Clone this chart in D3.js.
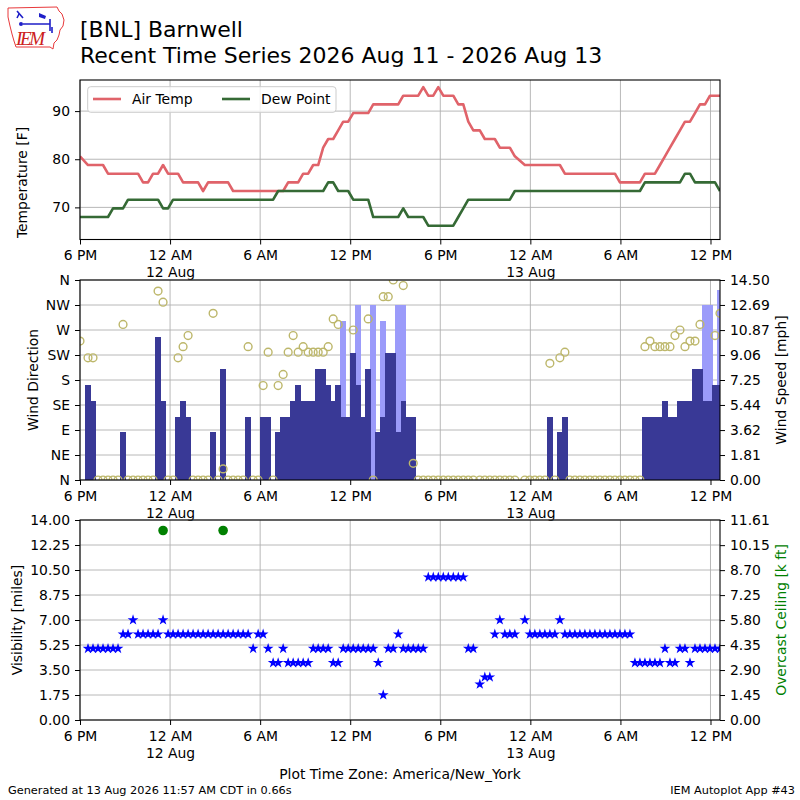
<!DOCTYPE html>
<html>
<head>
<meta charset="utf-8">
<script src="https://cdn.jsdelivr.net/npm/d3@7"></script>
<style>
  body { margin: 0; background: #fff; }
  svg { font-family: "DejaVu Sans", sans-serif; }
</style>
</head>
<body>
<svg id="chart" width="800" height="800"></svg>
<script>
const N = null;

// AWOS obs every 20 minutes (one lone ob at the start, then two runs)
const obsRuns = [
    { start: "2026-08-11T18:00", count: 1 },
    { start: "2026-08-11T18:32", count: 78 },
    { start: "2026-08-12T20:38", count: 49 }
];
const timeDomain = ["2026-08-11T18:00", "2026-08-13T12:38"];
const tickTimes = ["2026-08-11T18:00", "2026-08-12T00:00", "2026-08-12T06:00", "2026-08-12T12:00",
                   "2026-08-12T18:00", "2026-08-13T00:00", "2026-08-13T06:00", "2026-08-13T12:00"];
const tickLabels = [["6 PM"], ["12 AM", "12 Aug"], ["6 AM"], ["12 PM"],
                    ["6 PM"], ["12 AM", "13 Aug"], ["6 AM"], ["12 PM"]];

// temperatures [F]
const airTemp = [
    80.6, 78.8, 78.8, 78.8, 78.8, 77.0, 77.0, 77.0, 77.0, 77.0,
    77.0, 77.0, 75.2, 75.2, 77.0, 77.0, 78.8, 77.0, 77.0, 77.0,
    75.2, 75.2, 75.2, 75.2, 73.4, 75.2, 75.2, 75.2, 75.2, 75.2,
    73.4, 73.4, 73.4, 73.4, 73.4, 73.4, 73.4, 73.4, 73.4, 73.4,
    73.4, 75.2, 75.2, 75.2, 77.0, 77.0, 78.8, 78.8, 82.4, 84.2,
    84.2, 86.0, 87.8, 87.8, 89.6, 89.6, 89.6, 89.6, 91.4, 91.4,
    91.4, 91.4, 91.4, 91.4, 93.2, 93.2, 93.2, 93.2, 95.0, 93.2,
    93.2, 95.0, 93.2, 93.2, 93.2, 91.4, 91.4, 87.8, 86.0, 86.0,
    84.2, 84.2, 84.2, 82.4, 82.4, 82.4, 80.6, N, 78.8, 78.8,
    78.8, 78.8, 78.8, 78.8, 78.8, 78.8, 77.0, 77.0, 77.0, 77.0,
    77.0, 77.0, 77.0, 77.0, 77.0, 77.0, 77.0, 75.2, 75.2, 75.2,
    75.2, 75.2, 77.0, 77.0, 77.0, 78.8, 80.6, 82.4, 84.2, 86.0,
    87.8, 87.8, 89.6, 91.4, 91.4, 93.2, 93.2, 93.2
];
const dewPoint = [
    68.0, 68.0, 68.0, 68.0, 68.0, 68.0, 69.8, 69.8, 69.8, 71.6,
    71.6, 71.6, 71.6, 71.6, 71.6, 71.6, 69.8, 69.8, 71.6, 71.6,
    71.6, 71.6, 71.6, 71.6, 71.6, 71.6, 71.6, 71.6, 71.6, 71.6,
    71.6, 71.6, 71.6, 71.6, 71.6, 71.6, 71.6, 71.6, 71.6, 73.4,
    73.4, 73.4, 73.4, 73.4, 73.4, 73.4, 73.4, 73.4, 73.4, 75.2,
    75.2, 73.4, 73.4, 73.4, 71.6, 71.6, 71.6, 71.6, 68.0, 68.0,
    68.0, 68.0, 68.0, 68.0, 69.8, 68.0, 68.0, 68.0, 68.0, 66.2,
    66.2, 66.2, 66.2, 66.2, 66.2, 68.0, 69.8, 71.6, 71.6, 71.6,
    71.6, 71.6, 71.6, 71.6, 71.6, 71.6, 73.4, N, 73.4, 73.4,
    73.4, 73.4, 73.4, 73.4, 73.4, 73.4, 73.4, 73.4, 73.4, 73.4,
    73.4, 73.4, 73.4, 73.4, 73.4, 73.4, 73.4, 73.4, 73.4, 73.4,
    73.4, 73.4, 75.2, 75.2, 75.2, 75.2, 75.2, 75.2, 75.2, 75.2,
    77.0, 77.0, 75.2, 75.2, 75.2, 75.2, 75.2, 73.4
];

// wind direction [deg], 0 = calm, null = variable / missing
const windDir = [
    250, 220, 220, 0, 0, 0, 0, 0, 280, 0,
    0, 0, 0, 0, 0, 340, 320, 0, 0, 220,
    240, 260, 0, 0, 0, 0, 300, 0, 20, 0,
    0, 0, 0, 240, 0, 0, 170, 230, 0, 170,
    190, 230, 260, 230, 240, 230, 230, 230, 230, 240,
    290, 280, N, N, 270, N, N, 290, 0, N,
    330, 330, 360, N, 350, N, 30, 0, 0, 0,
    0, 0, 0, 0, 0, 0, 0, 0, 0, 0,
    0, 0, 0, 0, 0, 0, 0, N, 0, 0,
    0, 0, 0, 210, 0, 220, 230, 0, 0, 0,
    0, 0, 0, 0, 0, 0, 0, 0, 0, 0,
    0, 0, 240, 250, 240, 240, 240, 240, 260, 270,
    240, 250, 250, 280, N, N, 260, 300
];
// wind speed and gust [kt]
const windSpeed = [
    0, 6, 5, 0, 0, 0, 0, 0, 3, 0,
    0, 0, 0, 0, 0, 9, 5, 0, 0, 4,
    5, 4, 0, 0, 0, 0, 3, 0, 7, 0,
    0, 0, 0, 4, 0, 0, 4, 4, 0, 3,
    4, 4, 5, 6, 5, 5, 5, 7, 7, 6,
    5, 6, 4, 4, 8, 6, 4, 7, 0, 3,
    4, 8, 8, 3, 5, 4, 4, 0, 0, 0,
    0, 0, 0, 0, 0, 0, 0, 0, 0, 0,
    0, 0, 0, 0, 0, 0, 0, N, 0, 0,
    0, 0, 0, 4, 0, 3, 4, 0, 0, 0,
    0, 0, 0, 0, 0, 0, 0, 0, 0, 0,
    0, 0, 4, 4, 4, 4, 5, 4, 4, 5,
    5, 5, 7, 7, 5, 5, 6, 6
];
const windGust = [
    N, N, N, N, N, N, N, N, N, N,
    N, N, N, N, N, N, N, N, N, N,
    N, N, N, N, N, N, N, N, N, N,
    N, N, N, N, N, N, N, N, N, N,
    N, N, N, N, N, N, N, N, N, N,
    N, N, 10, N, N, 11, N, N, 11, N,
    10, N, N, 11, 11, N, N, N, N, N,
    N, N, N, N, N, N, N, N, N, N,
    N, N, N, N, N, N, N, N, N, N,
    N, N, N, N, N, N, N, N, N, N,
    N, N, N, N, N, N, N, N, N, N,
    N, N, N, N, N, N, N, N, N, N,
    N, N, N, N, 11, 11, N, 12
];

// visibility [miles] and overcast ceiling [k ft]
const visibility = [
    N, 5, 5, 5, 5, 5, 5, 5, 6, 6,
    7, 6, 6, 6, 6, 6, 7, 6, 6, 6,
    6, 6, 6, 6, 6, 6, 6, 6, 6, 6,
    6, 6, 6, 6, 5, 6, 6, 5, 4, 4,
    5, 4, 4, 4, 4, 4, 5, 5, 5, 5,
    4, 4, 5, 5, 5, 5, 5, 5, 5, 4,
    1.75, 5, 5, 6, 5, 5, 5, 5, 5, 10,
    10, 10, 10, 10, 10, 10, 10, 5, 5, 2.5,
    3, 3, 6, 7, 6, 6, 6, N, 7, 6,
    6, 6, 6, 6, 6, 7, 6, 6, 6, 6,
    6, 6, 6, 6, 6, 6, 6, 6, 6, 6,
    4, 4, 4, 4, 4, 4, 5, 4, 4, 5,
    5, 4, 5, 5, 5, 5, 5, 5
];
const ceiling = [
    N, N, N, N, N, N, N, N, N, N,
    N, N, N, N, N, N, 11.0, N, N, N,
    N, N, N, N, N, N, N, N, 11.0, N,
    N, N, N, N, N, N, N, N, N, N,
    N, N, N, N, N, N, N, N, N, N,
    N, N, N, N, N, N, N, N, N, N,
    N, N, N, N, N, N, N, N, N, N,
    N, N, N, N, N, N, N, N, N, N,
    N, N, N, N, N, N, N, N, N, N,
    N, N, N, N, N, N, N, N, N, N,
    N, N, N, N, N, N, N, N, N, N,
    N, N, N, N, N, N, N, N, N, N,
    N, N, N, N, N, N, N, N
];

const tempTicks = [70, 80, 90];
const tempRange = [63.33, 96.46];
const dirLabels = ["N", "NE", "E", "SE", "S", "SW", "W", "NW", "N"];
const speedTicks = ["0.00", "1.81", "3.62", "5.44", "7.25", "9.06", "10.87", "12.69", "14.50"];
const visTicks = ["0.00", "1.75", "3.50", "5.25", "7.00", "8.75", "10.50", "12.25", "14.00"];
const ceilTicks = ["0.00", "1.45", "2.90", "4.35", "5.80", "7.25", "8.70", "10.15", "11.61"];

const KT2MPH = 1.15078;

const svg = d3.select("#chart");
const left = 80, right = 720;
const fs = 13.9;
const gridColor = "#b0b0b0";

const parse = d3.utcParse("%Y-%m-%dT%H:%M");
const times = obsRuns.flatMap(r =>
    d3.range(r.count).map(i => d3.utcMinute.offset(parse(r.start), i * 20)));
const obs = times.map((t, i) => ({
    t, i,
    temp: airTemp[i], dew: dewPoint[i],
    dir: windDir[i], spd: windSpeed[i], gust: windGust[i],
    vis: visibility[i], ceil: ceiling[i]
}));

const x = d3.scaleUtc().domain(timeDomain.map(parse)).range([left, right]);
const xTicks = tickTimes.map(parse);
const barW = t => x(d3.utcMinute.offset(t, 20)) - x(t);

const P = {
    temp: { top: 80, bottom: 239.5 },
    wind: { top: 280, bottom: 480 },
    vis: { top: 520, bottom: 720 }
};

const defs = svg.append("defs");
Object.entries(P).forEach(([k, p]) => {
    defs.append("clipPath").attr("id", "clip-" + k).append("rect")
        .attr("x", left).attr("y", p.top).attr("width", right - left).attr("height", p.bottom - p.top);
});

function grid(p, y, yVals) {
    const g = svg.append("g").attr("stroke", gridColor).attr("stroke-width", 0.9);
    g.selectAll("line.v").data(xTicks).join("line").attr("class", "v")
        .attr("x1", d => x(d)).attr("x2", d => x(d)).attr("y1", p.top).attr("y2", p.bottom);
    g.selectAll("line.h").data(yVals).join("line").attr("class", "h")
        .attr("x1", left).attr("x2", right).attr("y1", d => y(d)).attr("y2", d => y(d));
}

function frameAndXAxis(p) {
    svg.append("rect").attr("x", left).attr("y", p.top)
        .attr("width", right - left).attr("height", p.bottom - p.top)
        .attr("fill", "none").attr("stroke", "#000").attr("stroke-width", 1.1);
    const ax = svg.append("g").attr("transform", `translate(0,${p.bottom})`)
        .call(d3.axisBottom(x).tickValues(xTicks).tickSize(5).tickFormat(""));
    ax.attr("font-size", fs).attr("font-family", "DejaVu Sans");
    ax.select(".domain").remove();
    ax.selectAll(".tick text").each(function(d, i) {
        const t = d3.select(this).attr("y", 11).attr("dy", null).attr("fill", "#000");
        tickLabels[i].forEach((s, j) => t.append("tspan").attr("x", 0)
            .attr("dy", j ? "1.2em" : "0.71em").text(s));
    });
}

function yAxis(axis, xPos) {
    const ax = svg.append("g").attr("transform", `translate(${xPos},0)`).call(axis);
    ax.attr("font-size", fs).attr("font-family", "DejaVu Sans");
    ax.select(".domain").remove();
    ax.selectAll(".tick text").attr("fill", "#000");
    return ax;
}

function yLabel(text, xPos, yMid, color) {
    svg.append("text").attr("transform", `translate(${xPos},${yMid}) rotate(-90)`)
        .attr("text-anchor", "middle").attr("font-size", fs)
        .attr("fill", color || "#000").text(text);
}

// ---------- temperature panel ----------
const yT = d3.scaleLinear().domain(tempRange).range([P.temp.bottom, P.temp.top]);
grid(P.temp, yT, tempTicks);

const tempG = svg.append("g").attr("clip-path", "url(#clip-temp)");
[["temp", "#e0636a"], ["dew", "#356a35"]].forEach(([key, color]) => {
    const line = d3.line().x(d => x(d.t)).y(d => yT(d[key]));
    tempG.append("path").datum(obs.filter(d => d[key] != null))
        .attr("d", line).attr("fill", "none").attr("stroke", color)
        .attr("stroke-width", 2.6).attr("stroke-linejoin", "round");
});
frameAndXAxis(P.temp);
yAxis(d3.axisLeft(yT).tickValues(tempTicks).tickSize(5).tickPadding(5), left);
yLabel("Temperature [F]", 27, 182.5);

// legend
const lg = svg.append("g");
lg.append("rect").attr("x", 87.7).attr("y", 86.7).attr("width", 248.3).attr("height", 25.6)
    .attr("rx", 3).attr("fill", "#fff").attr("fill-opacity", 0.8).attr("stroke", "#cccccc");
[["Air Temp", "#e0636a", 93], ["Dew Point", "#356a35", 222]].forEach(([name, color, lx]) => {
    lg.append("line").attr("x1", lx).attr("x2", lx + 28).attr("y1", 99).attr("y2", 99)
        .attr("stroke", color).attr("stroke-width", 2.6);
    lg.append("text").attr("x", lx + 39).attr("y", 104).attr("font-size", fs).text(name);
});

// ---------- wind panel ----------
const yDir = d3.scaleLinear().domain([0, 360]).range([P.wind.bottom, P.wind.top]);
const ySpd = d3.scaleLinear().domain([0, 14.5]).range([P.wind.bottom, P.wind.top]);
const dirTicks = d3.range(0, 361, 45);
grid(P.wind, yDir, dirTicks);

const windG = svg.append("g").attr("clip-path", "url(#clip-wind)");
windG.selectAll("rect.gust").data(obs.filter(d => d.gust != null)).join("rect").attr("class", "gust")
    .attr("x", d => x(d.t) - barW(d.t) / 2 - 0.25).attr("width", d => barW(d.t) + 0.5)
    .attr("y", d => ySpd(d.gust * KT2MPH)).attr("height", d => P.wind.bottom - ySpd(d.gust * KT2MPH))
    .attr("fill", "#9b9bfa").attr("shape-rendering", "crispEdges");
windG.selectAll("rect.spd").data(obs.filter(d => d.spd > 0)).join("rect").attr("class", "spd")
    .attr("x", d => x(d.t) - barW(d.t) / 2 - 0.25).attr("width", d => barW(d.t) + 0.5)
    .attr("y", d => ySpd(d.spd * KT2MPH)).attr("height", d => P.wind.bottom - ySpd(d.spd * KT2MPH))
    .attr("fill", "#393996").attr("shape-rendering", "crispEdges");
windG.selectAll("circle").data(obs.filter(d => d.dir != null)).join("circle")
    .attr("cx", d => x(d.t)).attr("cy", d => yDir(d.dir)).attr("r", 3.9)
    .attr("fill", "none").attr("stroke", "#bdb76b").attr("stroke-width", 1.4);

frameAndXAxis(P.wind);
yAxis(d3.axisLeft(yDir).tickValues(dirTicks).tickSize(5).tickPadding(5)
    .tickFormat((d, i) => dirLabels[i]), left);
yAxis(d3.axisRight(ySpd).tickValues(speedTicks.map(Number)).tickSize(5).tickPadding(5)
    .tickFormat(d3.format(".2f")), right);
yLabel("Wind Direction", 38.4, 380);
yLabel("Wind Speed [mph]", 786, 380);

// ---------- visibility panel ----------
const yVis = d3.scaleLinear().domain([0, 14]).range([P.vis.bottom, P.vis.top]);
const yCeil = d3.scaleLinear().domain([0, 11.61]).range([P.vis.bottom, P.vis.top]);
grid(P.vis, yVis, visTicks.map(Number));

const visG = svg.append("g").attr("clip-path", "url(#clip-vis)");
const star = d3.symbol(d3.symbolStar, 36);
visG.selectAll("path.star").data(obs.filter(d => d.vis != null)).join("path").attr("class", "star")
    .attr("transform", d => `translate(${x(d.t)},${yVis(d.vis)})`)
    .attr("d", star).attr("fill", "#0000ff");
visG.selectAll("circle").data(obs.filter(d => d.ceil != null)).join("circle")
    .attr("cx", d => x(d.t)).attr("cy", d => yCeil(d.ceil)).attr("r", 4.8)
    .attr("fill", "#008000");

frameAndXAxis(P.vis);
yAxis(d3.axisLeft(yVis).tickValues(visTicks.map(Number)).tickSize(5).tickPadding(5)
    .tickFormat(d3.format(".2f")), left);
yAxis(d3.axisRight(yCeil).tickValues(ceilTicks.map(Number)).tickSize(5).tickPadding(5)
    .tickFormat(d3.format(".2f")), right);
yLabel("Visibility [miles]", 21.8, 620);
yLabel("Overcast Ceiling [k ft]", 786, 620, "#008000");

// ---------- titles, footer ----------
svg.append("text").attr("x", 80).attr("y", 37).attr("font-size", 22).text("[BNL] Barnwell");
svg.append("text").attr("x", 80).attr("y", 63).attr("font-size", 22)
    .text("Recent Time Series 2026 Aug 11 - 2026 Aug 13");
svg.append("text").attr("x", 400).attr("y", 778.5).attr("text-anchor", "middle")
    .attr("font-size", fs).text("Plot Time Zone: America/New_York");
svg.append("text").attr("x", 8).attr("y", 793.5).attr("font-size", 11.3)
    .text("Generated at 13 Aug 2026 11:57 AM CDT in 0.66s");
svg.append("text").attr("x", 795).attr("y", 793.5).attr("text-anchor", "end").attr("font-size", 11.3)
    .text("IEM Autoplot App #43");

// IEM logo (rough)
const logo = svg.append("g");
logo.append("path")
    .attr("d", "M8,8 L57,7 L59,11 L62,14 L64,20 L63,26 L60,30 L59,35 L57,40 L54,43 L53,49 L50,47 L16,47 L14,41 L12,34 L10,26 L8,17 Z")
    .attr("fill", "none").attr("stroke", "#e8393b").attr("stroke-width", 1);
logo.append("path").attr("d", "M23,24 L50,24 M17,11 L23,18 M19,14 L17,18 M50,19 L50,31 M52,27 L52,33")
    .attr("stroke", "#1f1fc8").attr("stroke-width", 1.6).attr("fill", "none");
logo.append("path").attr("d", "M39,13 L46,16 L45,19 L39,17 Z").attr("fill", "#1f1fc8");
logo.append("circle").attr("cx", 21).attr("cy", 24).attr("r", 2).attr("fill", "#1f1fc8");
logo.append("text").attr("x", 16).attr("y", 45).attr("font-family", "Liberation Serif")
    .attr("font-style", "italic").attr("font-size", 19).attr("fill", "#cc2020")
    .attr("textLength", 29).text("IEM");
</script>
</body>
</html>
